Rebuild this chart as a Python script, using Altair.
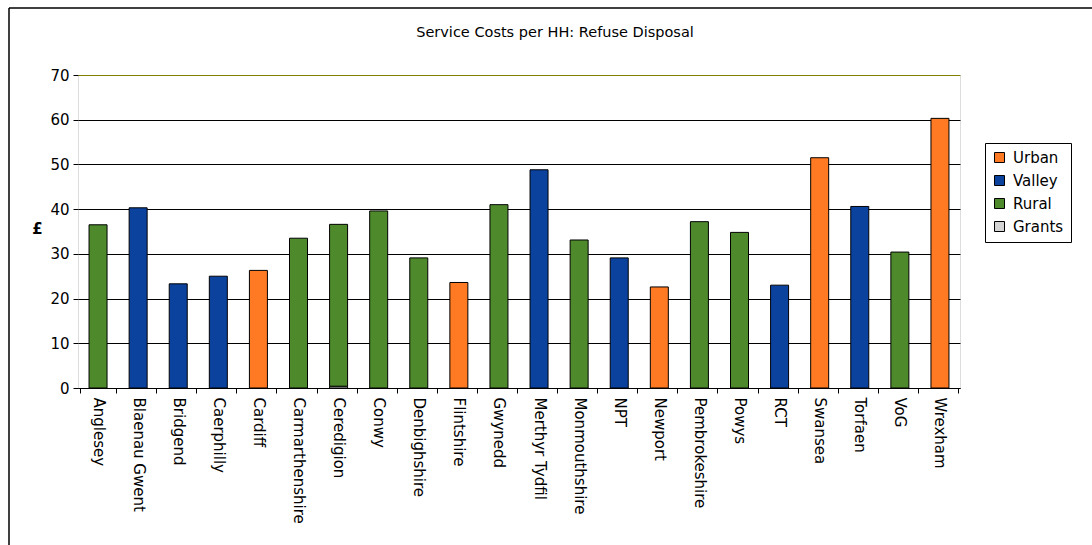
import altair as alt
import pandas as pd

# Refuse disposal cost per household, by council
councils = [
    "Anglesey", "Blaenau Gwent", "Bridgend", "Caerphilly", "Cardiff",
    "Carmarthenshire", "Ceredigion", "Conwy", "Denbighshire", "Flintshire",
    "Gwynedd", "Merthyr Tydfil", "Monmouthshire", "NPT", "Newport",
    "Pembrokeshire", "Powys", "RCT", "Swansea", "Torfaen", "VoG", "Wrexham",
]
council_type = [
    "Rural", "Valley", "Valley", "Valley", "Urban",
    "Rural", "Rural", "Rural", "Rural", "Urban",
    "Rural", "Valley", "Rural", "Valley", "Urban",
    "Rural", "Rural", "Valley", "Urban", "Valley", "Rural", "Urban",
]
cost = [
    36.5, 40.3, 23.3, 25.0, 26.3,
    33.5, 36.2, 39.6, 29.1, 23.6,
    41.0, 48.8, 33.1, 29.1, 22.6,
    37.2, 34.8, 23.0, 51.5, 40.6, 30.4, 60.3,
]
grants = [
    0, 0, 0, 0, 0,
    0, 0.4, 0, 0, 0,
    0, 0, 0, 0, 0,
    0, 0, 0, 0, 0, 0, 0,
]
chart_title = "Service Costs per HH: Refuse Disposal"

series_domain = ["Urban", "Valley", "Rural", "Grants"]
series_colors = ["#FF7A22", "#0B429E", "#4E8A2C", "#D4D4D4"]

rows = []
for c, t, v, g in zip(councils, council_type, cost, grants):
    if g > 0:
        rows.append({"council": c, "series": "Grants", "value": g, "stack": 0})
    rows.append({"council": c, "series": t, "value": v, "stack": 1})
df = pd.DataFrame(rows)

FONT = "DejaVu Sans"
OLIVE = "#808000"

bars = alt.Chart(df).mark_bar(stroke="black", strokeWidth=1, size=18).encode(
    x=alt.X(
        "council:N",
        sort=councils,
        axis=alt.Axis(
            title=None, labelAngle=90, labelAlign="left", labelBaseline="middle",
            tickBand="extent", tickSize=5, labelPadding=4, domainColor="black",
            tickColor="black", labelColor="black", labelFont=FONT, labelFontSize=15,
        ),
    ),
    y=alt.Y(
        "value:Q",
        stack="zero",
        scale=alt.Scale(domain=[0, 70], nice=False),
        axis=alt.Axis(
            values=list(range(0, 71, 10)), title="£", titleAngle=0,
            titleFontWeight="bold", titleFont=FONT, titleFontSize=15, titleColor="black",
            titleX=-41, titleY=161, titleAlign="center",
            grid=True,
            gridColor={"condition": {"test": "datum.value == 70", "value": OLIVE}, "value": "black"},
            gridOpacity=1, domain=False, tickSize=5, tickColor="black",
            labelColor="black", labelFont=FONT, labelFontSize=15, labelPadding=4,
        ),
    ),
    color=alt.Color(
        "series:N",
        scale=alt.Scale(domain=series_domain, range=series_colors),
        legend=alt.Legend(
            title=None, orient="none", legendX=907, legendY=68,
            strokeColor="black", fillColor="white", padding=7,
            symbolType="square", symbolSize=100, symbolStrokeColor="black",
            symbolStrokeWidth=1, labelFont=FONT, labelFontSize=15, labelColor="black",
            rowPadding=7, labelOffset=6,
        ),
    ),
    order=alt.Order("stack:Q"),
)

frame_src = pd.DataFrame({"k": [0]})
frame_top = alt.Chart(frame_src).mark_rule(color="black", strokeWidth=1.5).encode(
    x=alt.value(-69), x2=alt.value(1014), y=alt.value(-67)
)
frame_left = alt.Chart(frame_src).mark_rule(color="black", strokeWidth=1.5).encode(
    x=alt.value(-69), y=alt.value(-67), y2=alt.value(470)
)
title_text = alt.Chart(pd.DataFrame({"title": [chart_title]})).mark_text(
    font=FONT, fontSize=14.5, color="black", align="center", baseline="middle"
).encode(text="title:N", x=alt.value(477), y=alt.value(-42))

chart = alt.layer(frame_top, frame_left, title_text, bars).properties(
    width=882,
    height=313,
    padding={"left": 78, "top": 75, "right": 132, "bottom": 157},
    autosize=alt.AutoSizeParams(type="none"),
).configure_view(stroke=OLIVE, strokeWidth=1).configure(background="white")

chart.save("out.html", embed_options={"renderer": "svg", "actions": False})
